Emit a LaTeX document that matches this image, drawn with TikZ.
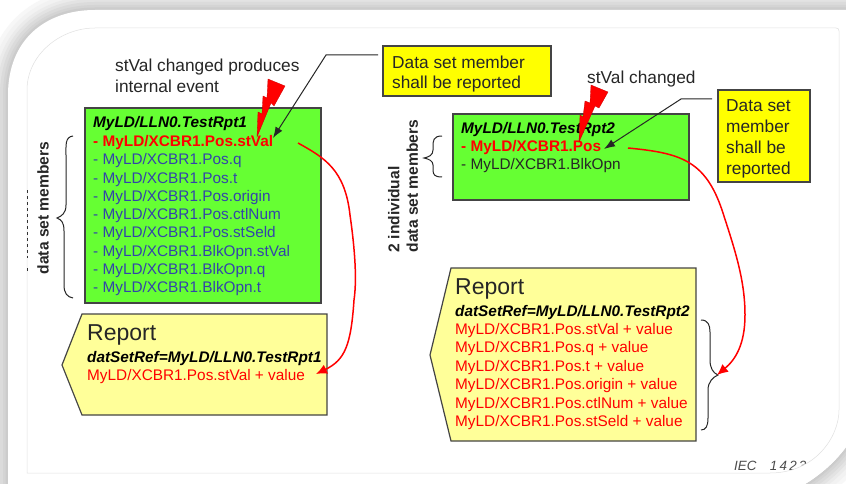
\documentclass[tikz,border=0pt]{standalone}
\usepackage{fontspec}
\setmainfont{Liberation Sans}
\usetikzlibrary{arrows.meta}
\definecolor{boxgreen}{HTML}{66FF33}
\definecolor{notegold}{HTML}{FFFF00}
\definecolor{reportpale}{HTML}{FFFF99}
\definecolor{memberblue}{HTML}{3344AA}
\definecolor{edgegray}{HTML}{444444}
\def\outeredge{(8,490) -- (8,95) .. controls (8,40) and (45,10) .. (95,10) -- (852,10) -- (852,447) -- (846,447)
		.. controls (835,462) and (820,475) .. (805,484) -- (805,490) -- cycle}
\tikzset{
	rowtext/.style={anchor=west, inner sep=0pt, yshift=-1.5pt, font=\fontsize{15.35}{15.35}\selectfont},
	boldrow/.style={rowtext, font=\fontsize{15.35}{15.35}\selectfont\bfseries},
	titlerow/.style={rowtext, font=\fontsize{15.35}{15.35}\selectfont\bfseries\itshape},
	noterow/.style={anchor=west, inner sep=0pt, align=left, text=black!85, font=\fontsize{17.3}{20.8}\selectfont},
	reporthead/.style={anchor=west, inner sep=0pt, text=black!85, font=\fontsize{23}{23}\selectfont},
	sidelabel/.style={rotate=90, inner sep=0pt, align=left, text=black!85, font=\fontsize{15.6}{18.5}\selectfont\bfseries},
	panel/.style={draw=edgegray, line width=1.2pt},
	bolt/.style={fill=red, draw=red!80!black, line width=0.3pt},
	callout/.style={draw=black!85, line width=1pt, -{Latex[length=11pt,width=8pt]}},
	eventline/.style={draw=red, line width=1.5pt, -{Latex[length=11pt,width=10pt]}},
	bracket/.style={draw=black!85, line width=1pt}
}
\begin{document}
\begin{tikzpicture}[x=1pt, y=-1pt]
	\useasboundingbox (0,0) rectangle (846,484);
	%%%%% FRAME %%%%%
	\fill[white] (0,0) rectangle (846,484);
	\foreach \wid/\shade in {44/3, 36/5, 28/8, 22/11, 16/14, 10/17, 5/20}
		\draw[black!\shade, line width=\wid pt] \outeredge;
	\fill[white] \outeredge;
	\node[anchor=west, inner sep=0pt, text=black!70, font=\fontsize{13.4}{13.4}\selectfont\itshape] (iec) at (734,466) {IEC\quad 1\,4\,2\,3};
	\fill[white] (846,400) -- (839,410) .. controls (839,437) and (815,473) .. (770,473) -- (770,484) -- (805,484)
		.. controls (820,475) and (835,462) .. (846,447) -- cycle;
	\draw[black!12, line width=0.5pt] (27,473) -- (27,90) .. controls (27,55) and (60,28) .. (95,28)
		-- (836,28) .. controls (838,28) and (839,29) .. (839,31) -- (839,410)
		.. controls (839,437) and (815,473) .. (770,473) -- cycle;
	\draw[black!80, line width=1.5pt, dash pattern=on 3pt off 3pt] (27.5,190) -- (27.5,258);
	\draw[black!80, line width=1.5pt] (27.5,268) -- (27.5,271);
	%%%%% LEFT SIDE %%%%%
	\draw[panel, fill=boxgreen] (85,108) rectangle (321,303);
	\node[titlerow] (title1) at (93,122.5) {MyLD/LLN0.TestRpt1};
	\node[boldrow, text=red] (stval1) at (93,141) {- MyLD/XCBR1.Pos.stVal};
	\foreach \name/\txt/\rowy in {q1/Pos.q/159.3, t1/Pos.t/177.6, origin1/Pos.origin/195.9,
		ctl1/Pos.ctlNum/214.2, seld1/Pos.stSeld/232.5, blks1/BlkOpn.stVal/250.8,
		blkq1/BlkOpn.q/269.1, blkt1/BlkOpn.t/287.4}
		\node[rowtext, text=memberblue] (\name) at (93,\rowy) {- MyLD/XCBR1.\txt};
	\node[noterow] (event1) at (115,75.5) {stVal changed produces\\internal event};
	\draw[panel, fill=notegold] (383,46) rectangle (551,96);
	\node[noterow] (note1) at (392,74) {Data set member\\shall be reported};
	\draw[panel, fill=reportpale] (82,314) -- (327,314) -- (327,415) -- (82,415) -- (62,365) -- cycle;
	\node[reporthead] (report1) at (87,335) {Report};
	\node[titlerow] (ref1) at (87,357) {datSetRef=MyLD/LLN0.TestRpt1};
	\node[rowtext, text=red] (value1) at (87,375) {MyLD/XCBR1.Pos.stVal + value};
	\node[sidelabel] (members1) at (43,208) {data set members};
	\draw[bracket] (73,136) .. controls (65,137) and (66,145) .. (66,155) -- (66,205)
		.. controls (66,213) and (62,216) .. (57,218) .. controls (62,220) and (64,223) .. (64,231)
		-- (64,285) .. controls (64,293) and (67,297) .. (73,298);
	\fill[bolt] (268,79) -- (285,86) -- (274,106) -- (271,103) -- (257,137) -- (258,112) -- (262,114) -- (263,96) -- (267,98) -- cycle;
	\coordinate (bend1) at (326,55);
	\coordinate (tipa) at (273,138);
	\coordinate (starta) at (378,55);
	\draw[callout] (starta) -- (bend1) -- (tipa);
	\draw[eventline] (298,143) .. controls (325,158) and (345,170) .. (350,215)
		.. controls (355,250) and (357,280) .. (354,300) .. controls (351,345) and (345,360) .. (316,374);
	%%%%% RIGHT SIDE %%%%%
	\draw[panel, fill=boxgreen] (453,114) rectangle (689,200);
	\node[titlerow] (title2) at (461,128) {MyLD/LLN0.TestRpt2};
	\node[boldrow, text=red] (stval2) at (461,146) {- MyLD/XCBR1.Pos};
	\node[rowtext, text=black!85] (blk2) at (461,164.5) {- MyLD/XCBR1.BlkOpn};
	\node[noterow] (event2) at (587,79) {stVal changed};
	\draw[panel, fill=notegold] (718,90) rectangle (810,182);
	\node[noterow] (note2) at (726,139) {Data set\\member\\shall be\\reported};
	\draw[panel, fill=reportpale] (451,268) -- (696,268) -- (696,441) -- (451,441) -- (430,355) -- cycle;
	\node[reporthead] (report2) at (455,289) {Report};
	\node[titlerow] (ref2) at (455,311) {datSetRef=MyLD/LLN0.TestRpt2};
	\foreach \name/\txt/\rowy in {rv1/stVal/329, rv2/q/347.4, rv3/t/365.8, rv4/origin/384.2, rv5/ctlNum/402.6, rv6/stSeld/421}
		\node[rowtext, text=red] (\name) at (455,\rowy) {MyLD/XCBR1.Pos.\txt{} + value};
	\node[sidelabel] (members2) at (403,186) {2 individual\\data set members};
	\draw[bracket] (442,136) .. controls (433,136) and (433,141) .. (433,147) -- (433,150)
		.. controls (433,155) and (429,157) .. (424,158) .. controls (429,159) and (433,161) .. (433,165)
		-- (433,170) .. controls (433,175) and (435,177) .. (442,177);
	\draw[bracket] (701,320) .. controls (708,320) and (710,325) .. (710,332) -- (710,360)
		.. controls (710,368) and (713,373) .. (718,375) .. controls (713,377) and (708,382) .. (708,390)
		-- (708,418) .. controls (708,426) and (706,430) .. (701,430);
	\fill[bolt] (591,85) -- (608,92) -- (599,108) -- (595,106) -- (579,142) -- (580,115) -- (583,117) -- (585,101) -- (590,103) -- cycle;
	\coordinate (bend2) at (681,99);
	\coordinate (tipb) at (604,149);
	\coordinate (startb) at (712,99);
	\draw[callout] (startb) -- (bend2) -- (tipb);
	\draw[eventline] (628,148) .. controls (680,153) and (705,160) .. (722,210)
		.. controls (735,250) and (745,280) .. (745,315) .. controls (745,345) and (735,360) .. (717,375);
\end{tikzpicture}
\end{document}
